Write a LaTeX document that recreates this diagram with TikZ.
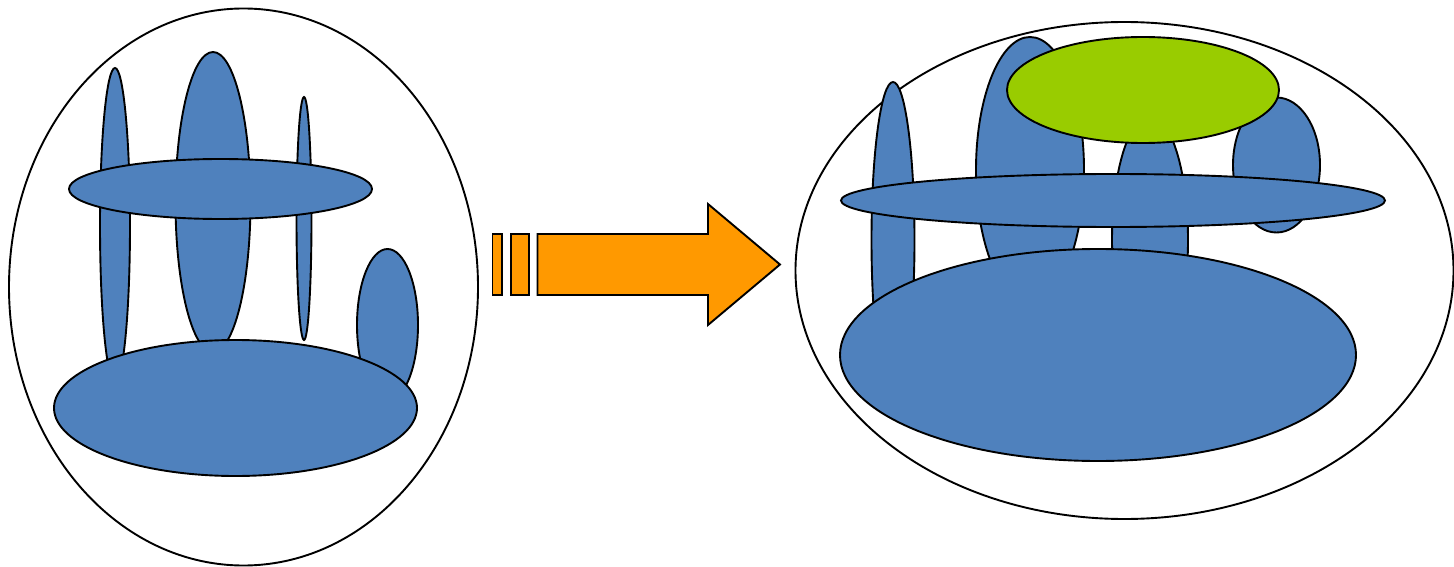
\documentclass[tikz,border=0pt]{standalone}
\usepackage{tikz}
\definecolor{blobblue}{HTML}{4F81BD}
\definecolor{arroworange}{HTML}{FF9900}
\definecolor{limegreen}{HTML}{99CC00}
\tikzset{
  outline/.style={draw=black, line width=1.9pt},
  blob/.style={outline, fill=blobblue},
  greenblob/.style={outline, fill=limegreen},
  orangepart/.style={outline, fill=arroworange, line join=miter},
  cell/.style={draw=black, line width=1.9pt, fill=none}
}
\begin{document}
\begin{tikzpicture}[x=1pt,y=-1pt]
\useasboundingbox (0,0) rectangle (1454,567);
% ---------- left cell ----------
\draw[cell] (243.5,287) ellipse [x radius=234.5, y radius=278.5];
\draw[blob] (115,225) ellipse [x radius=15, y radius=157];
\draw[blob] (213,202) ellipse [x radius=37.5, y radius=150];
\draw[blob] (304,218.5) ellipse [x radius=7.5, y radius=121.5];
\draw[blob] (387.5,325) ellipse [x radius=30.5, y radius=76];
\draw[blob] (220.5,189) ellipse [x radius=151.5, y radius=30];
\draw[blob] (235.5,408) ellipse [x radius=181.5, y radius=68];
% ---------- arrow ----------
\draw[orangepart] (492.5,234) rectangle (502,295);
\draw[orangepart] (511,234) rectangle (529,295);
\draw[orangepart] (537.5,234) -- (708,234) -- (708,204) -- (780,264.5)
   -- (708,325) -- (708,295) -- (537.5,295) -- cycle;
% ---------- right cell ----------
\draw[cell] (1124.5,270.5) ellipse [x radius=329, y radius=248.5];
\draw[blob] (893,240) ellipse [x radius=21.5, y radius=158];
\draw[blob] (1030,170) ellipse [x radius=54, y radius=133];
\draw[blob] (1150,240) ellipse [x radius=38, y radius=124];
\draw[blob] (1276.5,165) ellipse [x radius=43.5, y radius=67.5];
\draw[greenblob] (1143,90) ellipse [x radius=136, y radius=53];
\draw[blob] (1113,200.5) ellipse [x radius=272, y radius=26.5];
\draw[blob] (1098,355) ellipse [x radius=258, y radius=106];
\end{tikzpicture}
\end{document}
